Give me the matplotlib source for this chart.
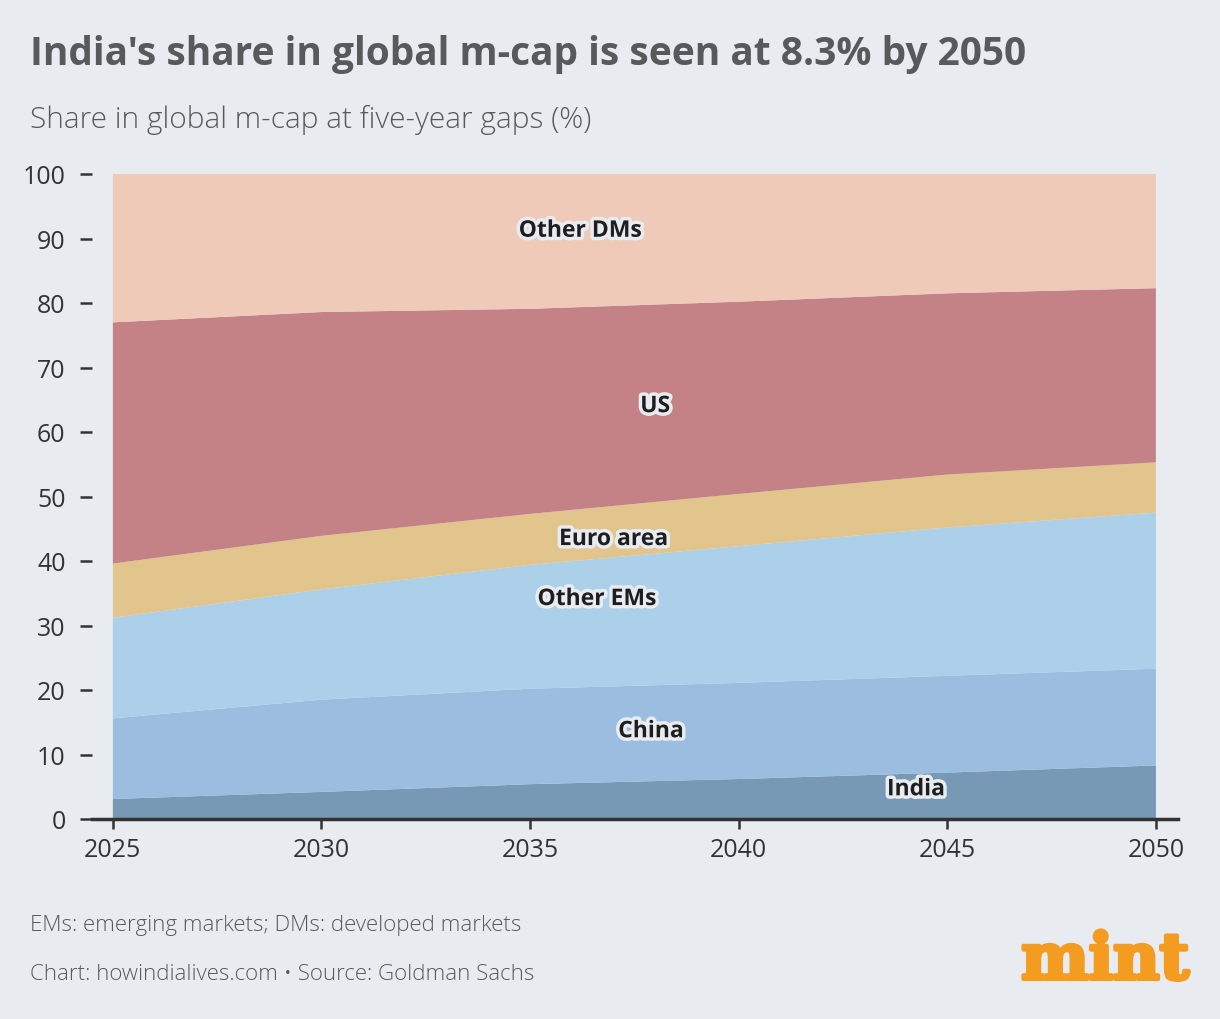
import matplotlib
matplotlib.use("Agg")
import matplotlib.pyplot as plt
import matplotlib.patheffects as pe

# Data (share in global m-cap, %)
years = [2025, 2030, 2035, 2040, 2045, 2050]
india = [3.1, 4.2, 5.4, 6.2, 7.2, 8.3]
china = [12.5, 14.3, 14.8, 14.9, 15.0, 15.0]
other_ems = [15.6, 17.1, 19.2, 21.2, 23.0, 24.2]
euro_area = [8.4, 8.3, 7.9, 8.1, 8.2, 7.8]
us = [37.4, 34.7, 31.8, 29.8, 28.1, 27.0]
other_dms = [23.0, 21.4, 20.9, 19.8, 18.5, 17.7]

series_names = ["India", "China", "Other EMs", "Euro area", "US", "Other DMs"]
colors = ["#7899b5", "#9bbde0", "#acd0ea", "#e2c58c", "#c48286", "#f0cab9"]
y_ticks = [0, 10, 20, 30, 40, 50, 60, 70, 80, 90, 100]

bg = "#e8ecf1"
text_col = "#58595b"

fig = plt.figure(figsize=(12.2, 10.2), dpi=100, facecolor=bg)
ax = fig.add_axes([92 / 1220, 200 / 1020, 1086 / 1220, 645 / 1020])
ax.set_facecolor(bg)

ax.stackplot(years, india, china, other_ems, euro_area, us, other_dms,
             colors=colors, linewidth=0)

ax.set_xlim(2024.5, 2050.53)
ax.set_ylim(0, 100)
ax.set_xticks(years)
ax.set_yticks(y_ticks)

for s in ["top", "right", "left"]:
    ax.spines[s].set_visible(False)
ax.spines["bottom"].set_color("#333333")
ax.spines["bottom"].set_linewidth(2.5)
ax.tick_params(axis="x", length=7, width=1.8, color="#333333", labelsize=18,
               labelcolor="#333333", pad=6)
ax.tick_params(axis="y", length=9, width=1.8, color="#333333", labelsize=18,
               labelcolor="#333333", pad=10)
for lab in ax.get_xticklabels() + ax.get_yticklabels():
    lab.set_family("Open Sans")

# inline series labels
label_pos = {
    "Other DMs": (2036.2, 91.2),
    "US": (2038.0, 64.0),
    "Euro area": (2037.0, 43.4),
    "Other EMs": (2036.6, 34.1),
    "China": (2037.9, 13.6),
    "India": (2044.25, 4.6),
}
for name, (x, y) in label_pos.items():
    ax.text(x, y, name, ha="center", va="center", fontsize=16.5, fontweight="bold",
            family="Open Sans", color="#1e1e1e",
            path_effects=[pe.withStroke(linewidth=5, foreground=bg)])

# titles
fig.text(30 / 1220, 1 - 55 / 1020, "India's share in global m-cap is seen at 8.3% by 2050",
         fontsize=28, fontweight="bold", family="Open Sans", color=text_col, va="center")
fig.text(30 / 1220, 1 - 120 / 1020, "Share in global m-cap at five-year gaps (%)",
         fontsize=21.5, fontweight="light", family="Open Sans", color=text_col, va="center")

# footnotes
fig.text(30 / 1220, 1 - 926 / 1020, "EMs: emerging markets; DMs: developed markets",
         fontsize=16, fontweight="light", family="Open Sans", color=text_col, va="center")
fig.text(30 / 1220, 1 - 974 / 1020, "Chart: howindialives.com \u2022 Source: Goldman Sachs",
         fontsize=16, fontweight="light", family="Open Sans", color=text_col, va="center")

# logo
fig.text(1189 / 1220, 1 - 980 / 1020, "mint", fontsize=46, fontweight="bold",
         family="DejaVu Serif", color="#f39c1f", ha="right", va="baseline",
         path_effects=[pe.withStroke(linewidth=3, foreground="#f39c1f")])

fig.savefig("out.png", dpi=100, facecolor=bg)
